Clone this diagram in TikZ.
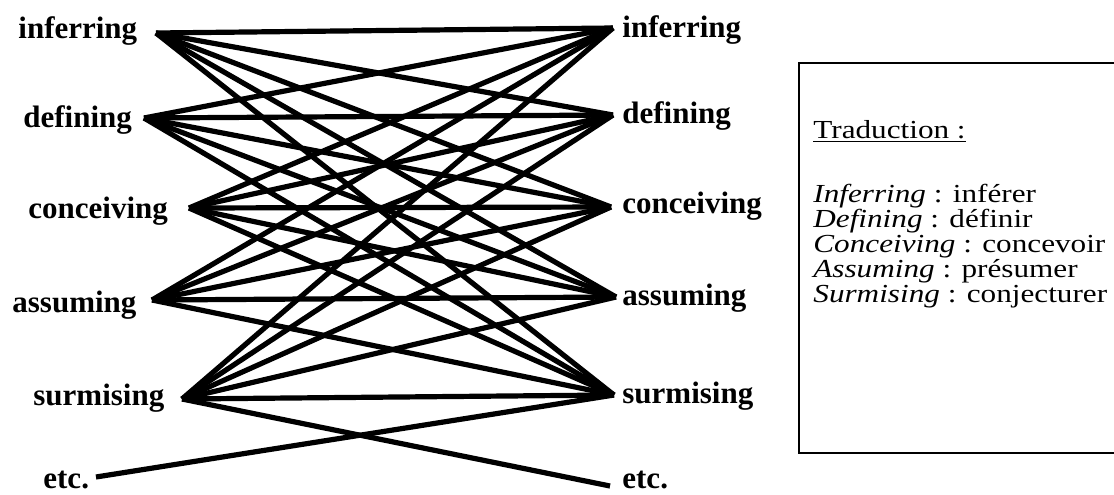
\documentclass[tikz,border=0pt]{standalone}
\usepackage{fontspec}
\setmainfont{Liberation Serif}
\newfontfamily\boxfont[FakeStretch=1.2]{Liberation Serif}
\begin{document}
\begin{tikzpicture}[x=0.5pt,y=-0.5pt,
  lbl/.style={anchor=base west,inner sep=0pt,font=\fontsize{15.5}{18}\selectfont\bfseries},
  btxt/.style={anchor=base west,inner sep=0pt,font=\boxfont\fontsize{13}{13}\selectfont},
  edge/.style={line width=2.6pt,line cap=butt},
  frame/.style={line width=1.3pt}]
\useasboundingbox (0,0) rectangle (1114,494);
% left labels
\node[lbl] (lI) at (18,38) {inferring};
\node[lbl] (lD) at (23,127) {defining};
\node[lbl] (lC) at (28,218) {conceiving};
\node[lbl] (lA) at (12,312) {assuming};
\node[lbl] (lS) at (33,405) {surmising};
\node[lbl] (lE) at (43,488) {etc.};
% right labels
\node[lbl] (rI) at (622,37) {inferring};
\node[lbl] (rD) at (622,123) {defining};
\node[lbl] (rC) at (622,213) {conceiving};
\node[lbl] (rA) at (622,305) {assuming};
\node[lbl] (rS) at (622,403) {surmising};
\node[lbl] (rE) at (622,488) {etc.};
% apex points
\coordinate (LI) at (156,33);
\coordinate (LD) at (144,118);
\coordinate (LC) at (189,208);
\coordinate (LA) at (152,300);
\coordinate (LS) at (182,399);
\coordinate (LE) at (96,477);
\coordinate (RI) at (613,28);
\coordinate (RD) at (613,115);
\coordinate (RC) at (611,207);
\coordinate (RA) at (616,297);
\coordinate (RS) at (614,395);
\coordinate (RE) at (610,486);
% complete bipartite connections
\foreach \a in {LI,LD,LC,LA,LS}{
  \foreach \b in {RI,RD,RC,RA,RS}{
    \draw[edge] (\a) -- (\b);
  }
}
\draw[edge] (LE) -- (RS);
\draw[edge] (LS) -- (RE);
% translation box
\draw[frame] (1125,63) -| (799,453) -- (1125,453);
\node[btxt] (t0) at (813,138) {\underline{Traduction :}};
\node[btxt] (t1) at (813,202) {\textit{Inferring} : inférer};
\node[btxt] (t2) at (813,227) {\textit{Defining} : définir};
\node[btxt] (t3) at (813,252) {\textit{Conceiving} : concevoir};
\node[btxt] (t4) at (813,277) {\textit{Assuming} : présumer};
\node[btxt] (t5) at (813,302) {\textit{Surmising} : conjecturer};
\end{tikzpicture}
\end{document}
